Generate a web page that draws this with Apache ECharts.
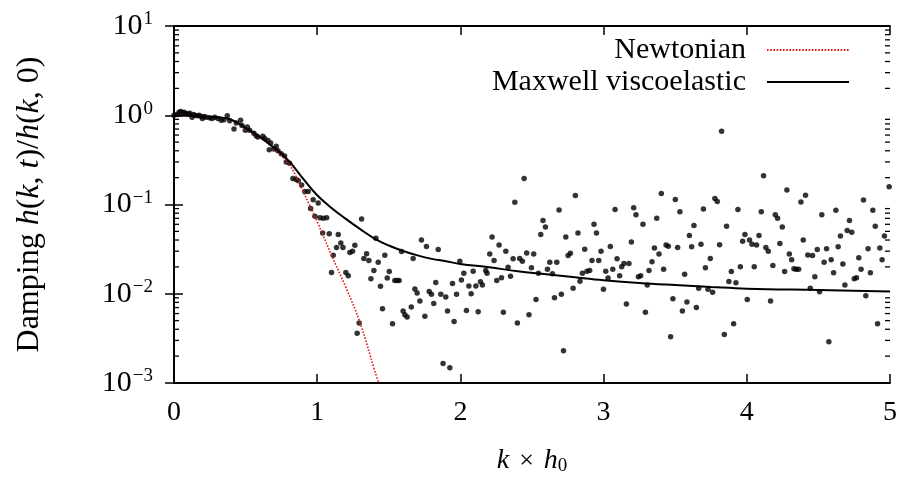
<!DOCTYPE html>
<html><head><meta charset="utf-8">
<script src="https://cdn.jsdelivr.net/npm/echarts@6/dist/echarts.min.js"></script>
<style>html,body{margin:0;padding:0;background:#fff}#c{width:901px;height:481px}</style>
</head><body><div id="c"></div>
<script>
// ---- data ----
const xTickValues = [0, 1, 2, 3, 4, 5];
const minorTickValues = [
  0.002,0.003,0.004,0.005,0.006,0.007,0.008,0.009,
  0.02,0.03,0.04,0.05,0.06,0.07,0.08,0.09,
  0.2,0.3,0.4,0.5,0.6,0.7,0.8,0.9,
  2,3,4,5,6,7,8,9
];
const newtonianK = [0,0.1,0.2,0.3,0.4,0.5,0.6,0.7,0.8,0.9,1.0,1.1,1.2,1.3,1.4,1.43];
const newtonianDamping = [1.0,0.99,0.97,0.95,0.88,0.71,0.56,0.42,0.29,0.141,0.064,0.027,0.0118,0.0047,0.0014,0.001];
const maxwellK = [0,0.1,0.2,0.3,0.4,0.5,0.6,0.7,0.8,0.9,1.0,1.1,1.2,1.3,1.4,1.5,1.6,1.7,1.8,1.9,2.0,2.2,2.4,2.6,2.8,3.0,3.25,3.5,3.75,4.0,4.5,5.0];
const maxwellDamping = [1.0,0.99,0.97,0.95,0.89,0.72,0.57,0.43,0.31,0.196,0.127,0.0915,0.069,0.053,0.0415,0.0347,0.0301,0.0269,0.0246,0.0231,0.0216,0.0198,0.0179,0.01655,0.0153,0.0142,0.0132,0.0125,0.0119,0.0114,0.011,0.0106];
const simulationPoints = [
  [0,1.0],[0.02,1.02],[0.035,1.08],[0.047,1.1],[0.063,1.06],[0.072,1.08],[0.086,1.04],[0.10,1.03],[0.11,1.05],[0.126,0.95],[0.135,1.02],[0.144,1.0],[0.163,0.99],[0.175,1.0],[0.19,0.97],[0.198,0.92],[0.21,0.97],[0.225,0.95],[0.249,0.94],[0.265,0.92],[0.284,0.95],[0.307,0.92],[0.33,0.88],[0.349,0.89],[0.372,0.99],[0.389,0.87],[0.419,0.70],[0.435,0.82],[0.465,0.88],[0.475,0.77],[0.498,0.68],[0.512,0.74],[0.528,0.68],[0.558,0.63],[0.574,0.59],[0.586,0.57],[0.621,0.58],[0.633,0.55],[0.656,0.52],[0.665,0.41],[0.675,0.49],[0.698,0.42],[0.714,0.45],[0.726,0.40],[0.749,0.37],[0.772,0.35],[0.784,0.30],[0.807,0.29],[0.83,0.195],[0.853,0.19],[0.868,0.185],[0.891,0.165],[0.914,0.14],[0.937,0.14],[0.972,0.113],[1.007,0.104],
  [0.954,0.09],[0.984,0.074],[1.019,0.071],[1.042,0.07],[1.066,0.071],[1.038,0.048],[1.084,0.047],[1.147,0.046],[1.165,0.037],[1.135,0.033],[1.18,0.033],[1.228,0.029],[1.247,0.030],[1.263,0.035],[1.31,0.069],[1.345,0.028],[1.41,0.042],[1.472,0.027],[1.112,0.027],[1.10,0.0173],[1.20,0.0173],[1.217,0.0159],[1.326,0.0249],[1.361,0.0236],[1.396,0.0182],[1.426,0.0226],[1.375,0.0147],[1.442,0.0121],[1.503,0.0178],[1.489,0.0150],[1.542,0.0141],[1.558,0.0141],[1.572,0.0141],[1.589,0.0298],[1.67,0.0249],[1.728,0.040],[1.763,0.0339],[1.845,0.0313],[1.456,0.0068],[1.526,0.0046],[1.293,0.0047],[1.279,0.0036],[1.60,0.0064],[1.612,0.0058],[1.628,0.0055],[1.657,0.0071],[1.682,0.0113],[1.698,0.0102],[1.717,0.0083],[1.752,0.0056],[1.782,0.0106],[1.798,0.0099],[1.828,0.0134],[1.814,0.0078],[1.863,0.0099],[1.898,0.0092],[1.91,0.0064],[1.945,0.013],[1.973,0.0099],[1.956,0.0049],[1.879,0.00165],[1.926,0.00148],
  [1.996,0.0232],[2.007,0.0143],[2.024,0.0170],[2.042,0.0065],[2.059,0.0122],[2.075,0.0100],[2.089,0.0179],[2.108,0.0122],[2.124,0.0063],[2.14,0.0136],[2.154,0.0125],[2.177,0.0182],[2.186,0.0170],[2.205,0.0278],[2.221,0.0433],[2.235,0.0236],[2.254,0.0141],[2.27,0.0351],[2.287,0.0151],[2.30,0.0062],[2.317,0.030],[2.333,0.0198],[2.35,0.0157],[2.368,0.0246],[2.38,0.106],[2.398,0.0047],[2.414,0.0249],[2.433,0.0232],[2.445,0.195],[2.463,0.0286],[2.479,0.0058],[2.496,0.0195],[2.512,0.0278],[2.528,0.0086],[2.545,0.0170],[2.561,0.0461],[2.577,0.066],[2.594,0.056],[2.608,0.0188],[2.624,0.0226],[2.643,0.0168],[2.657,0.0090],[2.673,0.0226],[2.689,0.087],[2.705,0.0099],[2.72,0.0023],[2.736,0.0433],[2.752,0.0269],[2.768,0.0284],[2.787,0.0115],[2.803,0.126],[2.821,0.048],[2.835,0.0138],[2.852,0.0170],[2.868,0.0315],[2.884,0.0179],[2.903,0.0182],[2.919,0.0236],[2.933,0.060],[2.95,0.048],[2.966,0.0236],[2.982,0.030],[2.999,0.0112],
  [3.015,0.0179],[3.031,0.0150],[3.047,0.0339],[3.064,0.0188],[3.08,0.088],[3.094,0.0246],[3.112,0.0159],[3.126,0.0201],[3.142,0.0218],[3.159,0.0077],[3.177,0.0218],[3.194,0.0381],[3.21,0.092],[3.226,0.077],[3.243,0.0155],[3.259,0.0159],[3.275,0.060],[3.292,0.0062],[3.305,0.0125],[3.317,0.0182],[3.338,0.0228],[3.355,0.0325],[3.371,0.070],[3.387,0.0278],[3.403,0.133],[3.419,0.0188],[3.436,0.0351],[3.452,0.0340],[3.468,0.0033],[3.484,0.0088],[3.501,0.114],[3.517,0.0330],[3.533,0.083],[3.55,0.0064],[3.566,0.0165],[3.582,0.0081],[3.599,0.045],[3.615,0.0337],[3.631,0.058],[3.648,0.0070],[3.664,0.0115],[3.68,0.0358],[3.697,0.089],[3.711,0.0196],[3.729,0.0112],[3.745,0.0249],[3.761,0.0104],[3.777,0.117],[3.794,0.108],[3.81,0.0355],[3.824,0.66],[3.843,0.0035],[3.859,0.057],[3.875,0.0137],[3.892,0.0177],[3.908,0.0046],[3.924,0.0133],[3.938,0.088],[3.955,0.0201],[3.971,0.0387],[3.987,0.0461],
  [4.003,0.0086],[4.019,0.040],[4.036,0.0358],[4.052,0.0201],[4.068,0.0351],[4.085,0.045],[4.101,0.083],[4.117,0.21],[4.133,0.0330],[4.15,0.030],[4.166,0.0083],[4.182,0.0207],[4.199,0.077],[4.215,0.070],[4.231,0.0365],[4.248,0.056],[4.264,0.0177],[4.28,0.145],[4.297,0.0278],[4.313,0.0240],[4.329,0.0190],[4.345,0.0188],[4.362,0.0188],[4.378,0.107],[4.394,0.040],[4.41,0.127],[4.426,0.0272],[4.443,0.0115],[4.459,0.0269],[4.475,0.0155],[4.492,0.0313],[4.508,0.0105],[4.524,0.077],[4.54,0.0226],[4.557,0.0320],[4.573,0.0029],[4.589,0.0240],[4.606,0.0172],[4.622,0.086],[4.638,0.0337],[4.654,0.0444],[4.671,0.0216],[4.685,0.0125],[4.701,0.051],[4.717,0.066],[4.733,0.049],[4.75,0.0147],[4.766,0.0151],[4.782,0.0253],[4.798,0.0188],[4.815,0.112],[4.831,0.0095],[4.847,0.0320],[4.863,0.0172],[4.88,0.086],[4.897,0.057],[4.913,0.0046],[4.929,0.0325],[4.945,0.0240],[4.961,0.0444],[4.994,0.158]
];

// ---- chart ----
const FONT = 'Liberation Serif';
const zip = (a, b) => a.map((v, i) => [v, b[i]]);
const supFmt = v => {
  const e = Math.round(Math.log10(v));
  return '{b|10}{s|' + (e < 0 ? '\u2212' + (-e) : e) + '}';
};
const yRich = {
  b: {fontFamily: FONT, fontSize: 30, lineHeight: 32, color: '#000'},
  s: {fontFamily: FONT, fontSize: 19, lineHeight: 18, verticalAlign: 'top', padding: [0, 0, 0, 1], color: '#000'}
};
const axisLine = {show: true, lineStyle: {color: '#000', width: 1.8}};
const majorTick = {inside: true, length: 9, lineStyle: {color: '#000', width: 1.5}};
const chart = echarts.init(document.getElementById('c'), null, {renderer: 'canvas'});
chart.setOption({
  animation: false,
  backgroundColor: '#fff',
  grid: {left: 174, right: 11, top: 26, bottom: 94, containLabel: false},
  legend: {
    data: ['Newtonian', 'Maxwell viscoelastic'],
    orient: 'vertical', align: 'right', right: 46, top: 30,
    itemWidth: 82, itemHeight: 14, itemGap: 2,
    itemStyle: {opacity: 0},
    textStyle: {fontFamily: FONT, fontSize: 30, lineHeight: 30, color: '#000', padding: [0, 16, 0, 0]},
    selectedMode: false
  },
  xAxis: [{
    type: 'value', min: xTickValues[0], max: xTickValues[xTickValues.length - 1], interval: 1,
    axisLine, splitLine: {show: false}, axisTick: majorTick,
    axisLabel: {fontFamily: FONT, fontSize: 28, color: '#000', margin: 16},
    name: '{i|k}{x|\u00d7}{i|h}{sub|0}', nameLocation: 'middle', nameGap: 63,
    nameTextStyle: {fontFamily: FONT, fontSize: 28, lineHeight: 30, color: '#000',
      rich: {
        i: {fontFamily: FONT, fontSize: 28, fontStyle: 'italic', lineHeight: 30, color: '#000'},
        x: {fontFamily: FONT, fontSize: 26, lineHeight: 30, padding: [0, 10, 0, 10], color: '#000'},
        sub: {fontFamily: FONT, fontSize: 19, lineHeight: 18, verticalAlign: 'bottom', color: '#000'}
      }}
  }, {
    type: 'value', position: 'top', min: 0, max: 5, interval: 1,
    axisLine, splitLine: {show: false}, axisTick: majorTick,
    axisLabel: {show: false}
  }],
  yAxis: [{
    type: 'log', logBase: 10, min: 0.001, max: 10,
    axisLine, splitLine: {show: false}, axisTick: majorTick,
    axisLabel: {formatter: supFmt, rich: yRich, margin: 21},
    name: '{n|Damping }{i|h}{n|(}{i|k}{n|, }{i|t}{n|)/}{i|h}{n|(}{i|k}{n|, 0)}',
    nameLocation: 'middle', nameGap: 128, nameRotate: 90,
    nameTextStyle: {fontFamily: FONT, fontSize: 32, color: '#000',
      rich: {
        n: {fontFamily: FONT, fontSize: 32, lineHeight: 32, color: '#000'},
        i: {fontFamily: FONT, fontSize: 32, fontStyle: 'italic', lineHeight: 32, color: '#000'}
      }}
  }, {
    type: 'log', logBase: 10, min: 0.001, max: 10, position: 'right',
    axisLine, splitLine: {show: false}, axisTick: majorTick,
    axisLabel: {show: false}
  }],
  series: [
    {
      type: 'custom', name: 'minorTicks', xAxisIndex: 0, yAxisIndex: 0, silent: true, clip: false, z: 5,
      data: minorTickValues.map(v => [0, v]),
      renderItem: function (params, api) {
        const v = api.value(1);
        const l = api.coord([0, v]);
        const r = api.coord([5, v]);
        const st = {stroke: '#000', lineWidth: 1.3};
        return {type: 'group', children: [
          {type: 'line', shape: {x1: l[0], y1: l[1], x2: l[0] + 5, y2: l[1]}, style: st},
          {type: 'line', shape: {x1: r[0] - 5, y1: r[1], x2: r[0], y2: r[1]}, style: st}
        ]};
      }
    },
    {
      type: 'scatter', name: 'simulation', data: simulationPoints, symbol: 'circle', symbolSize: 5.5,
      itemStyle: {color: '#000'}, z: 2, silent: true
    },
    {
      type: 'line', name: 'Newtonian', data: zip(newtonianK, newtonianDamping), smooth: 0.4,
      symbol: 'none', showSymbol: false, z: 3,
      lineStyle: {color: '#e41a1c', width: 1.6, type: [1.6, 1.6]}, itemStyle: {color: '#e41a1c'}
    },
    {
      type: 'line', name: 'Maxwell viscoelastic', data: zip(maxwellK, maxwellDamping), smooth: 0.4,
      symbol: 'none', showSymbol: false, z: 4,
      lineStyle: {color: '#000', width: 2}, itemStyle: {color: '#000'}
    }
  ]
});
</script>
</body></html>
